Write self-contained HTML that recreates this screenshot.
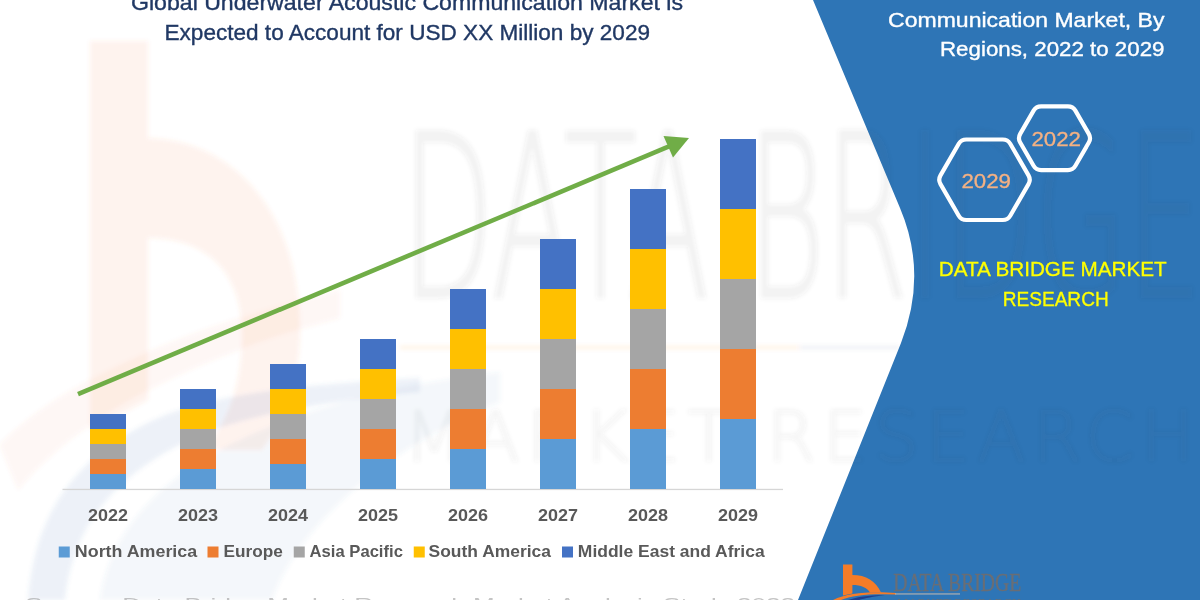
<!DOCTYPE html>
<html lang="en">
<head>
<meta charset="utf-8">
<title>Global Underwater Acoustic Communication Market</title>
<style>
html,body{margin:0;padding:0;background:#fff;}
body{width:1200px;height:600px;overflow:hidden;position:relative;font-family:"Liberation Sans",sans-serif;}
svg{display:block;position:absolute;left:0;top:0;}
text{font-family:"Liberation Sans",sans-serif;}
.wm{font-family:"DejaVu Sans","Liberation Sans",sans-serif;font-weight:200;}
.serif{font-family:"Liberation Serif",serif;}
</style>
</head>
<body>
<svg width="1200" height="600" viewBox="0 0 1200 600">
<defs>
<filter id="blur2" x="-10%" y="-10%" width="120%" height="120%"><feGaussianBlur stdDeviation="2.2"/></filter>
<filter id="blur1" x="-10%" y="-10%" width="120%" height="120%"><feGaussianBlur stdDeviation="0.5"/></filter>
<clipPath id="panelclip"><path d="M813,0 L900,208 Q928,274 901,343 L798,600 L1200,600 L1200,0 Z"/></clipPath>
</defs>
<rect width="1200" height="600" fill="#ffffff"/>

<!-- watermark -->
<g id="watermark" filter="url(#blur2)">
  <!-- big b -->
  <path d="M90,41 L148,41 L148,138 C235,140 300,215 300,330 C300,380 285,420 262,450 L205,450 C228,420 242,385 242,335 C242,270 205,238 148,238 L148,400 L90,430 Z" fill="#f4723a" opacity="0.085"/>
  <!-- swoosh -->
  <path d="M0,445 C40,400 150,335 340,290 L340,318 C180,360 70,425 18,490 Z" fill="#f4723a" opacity="0.055"/>
  <path d="M28,600 C34,520 70,455 165,415 C230,392 300,385 420,378 L420,392 C330,400 250,415 200,435 C110,475 72,530 65,600 Z" fill="#4a78b8" opacity="0.10"/>
  <path d="M100,600 C108,540 150,480 250,435 C330,400 400,385 500,372 L500,402 C400,440 300,520 272,600 Z" fill="#4a78b8" opacity="0.06"/>
  <text class="wm" x="402" y="297" font-size="226" textLength="800" lengthAdjust="spacingAndGlyphs" fill="#555" stroke="#555" stroke-width="3" opacity="0.065">DATA BRIDGE</text>
  <rect x="400" y="346" width="400" height="3" fill="#f58a3c" opacity="0.12"/>
  <rect x="800" y="346" width="100" height="3" fill="#7f93b5" opacity="0.15"/>
  <text class="wm" x="404" y="461" font-size="70" textLength="790" lengthAdjust="spacing" fill="#555" stroke="#555" stroke-width="1.5" opacity="0.055">MARKET RESEARCH</text>
</g>

<!-- title -->
<g fill="#203864" stroke="#203864" stroke-width="0.35" font-size="21.3">
<text x="131" y="9.5" textLength="552" lengthAdjust="spacingAndGlyphs">Global Underwater Acoustic Communication Market is</text>
<text x="164.5" y="39.5" textLength="485.5" lengthAdjust="spacingAndGlyphs">Expected to Account for USD XX Million by 2029</text>
</g>

<!-- axis -->
<rect x="62.5" y="488.8" width="720.5" height="1.3" fill="#d6d6d6"/>

<!-- bars -->
<g shape-rendering="crispEdges">
<rect x="90" y="473.50" width="36" height="15.00" fill="#5b9bd5"/>
<rect x="90" y="458.50" width="36" height="15.00" fill="#ed7d31"/>
<rect x="90" y="443.50" width="36" height="15.00" fill="#a5a5a5"/>
<rect x="90" y="428.50" width="36" height="15.00" fill="#ffc000"/>
<rect x="90" y="413.50" width="36" height="15.00" fill="#4472c4"/>
<rect x="180" y="468.50" width="36" height="20.00" fill="#5b9bd5"/>
<rect x="180" y="448.50" width="36" height="20.00" fill="#ed7d31"/>
<rect x="180" y="428.50" width="36" height="20.00" fill="#a5a5a5"/>
<rect x="180" y="408.50" width="36" height="20.00" fill="#ffc000"/>
<rect x="180" y="388.50" width="36" height="20.00" fill="#4472c4"/>
<rect x="270" y="463.50" width="36" height="25.00" fill="#5b9bd5"/>
<rect x="270" y="438.50" width="36" height="25.00" fill="#ed7d31"/>
<rect x="270" y="413.50" width="36" height="25.00" fill="#a5a5a5"/>
<rect x="270" y="388.50" width="36" height="25.00" fill="#ffc000"/>
<rect x="270" y="363.50" width="36" height="25.00" fill="#4472c4"/>
<rect x="360" y="458.50" width="36" height="30.00" fill="#5b9bd5"/>
<rect x="360" y="428.50" width="36" height="30.00" fill="#ed7d31"/>
<rect x="360" y="398.50" width="36" height="30.00" fill="#a5a5a5"/>
<rect x="360" y="368.50" width="36" height="30.00" fill="#ffc000"/>
<rect x="360" y="338.50" width="36" height="30.00" fill="#4472c4"/>
<rect x="450" y="448.50" width="36" height="40.00" fill="#5b9bd5"/>
<rect x="450" y="408.50" width="36" height="40.00" fill="#ed7d31"/>
<rect x="450" y="368.50" width="36" height="40.00" fill="#a5a5a5"/>
<rect x="450" y="328.50" width="36" height="40.00" fill="#ffc000"/>
<rect x="450" y="288.50" width="36" height="40.00" fill="#4472c4"/>
<rect x="540" y="438.50" width="36" height="50.00" fill="#5b9bd5"/>
<rect x="540" y="388.50" width="36" height="50.00" fill="#ed7d31"/>
<rect x="540" y="338.50" width="36" height="50.00" fill="#a5a5a5"/>
<rect x="540" y="288.50" width="36" height="50.00" fill="#ffc000"/>
<rect x="540" y="238.50" width="36" height="50.00" fill="#4472c4"/>
<rect x="630" y="428.50" width="36" height="60.00" fill="#5b9bd5"/>
<rect x="630" y="368.50" width="36" height="60.00" fill="#ed7d31"/>
<rect x="630" y="308.50" width="36" height="60.00" fill="#a5a5a5"/>
<rect x="630" y="248.50" width="36" height="60.00" fill="#ffc000"/>
<rect x="630" y="188.50" width="36" height="60.00" fill="#4472c4"/>
<rect x="720" y="418.50" width="36" height="70.00" fill="#5b9bd5"/>
<rect x="720" y="348.50" width="36" height="70.00" fill="#ed7d31"/>
<rect x="720" y="278.50" width="36" height="70.00" fill="#a5a5a5"/>
<rect x="720" y="208.50" width="36" height="70.00" fill="#ffc000"/>
<rect x="720" y="138.50" width="36" height="70.00" fill="#4472c4"/>
</g>

<!-- arrow -->
<g>
<line x1="78" y1="394.2" x2="672" y2="145.2" stroke="#70ad47" stroke-width="4.6" stroke-linecap="butt"/>
<polygon points="689,138 663.5,136 673,157.5" fill="#70ad47"/>
</g>

<!-- year labels -->
<g fill="#595959" font-size="16.4" font-weight="bold">
<text x="108" y="520.5" text-anchor="middle" textLength="40" lengthAdjust="spacingAndGlyphs">2022</text>
<text x="198" y="520.5" text-anchor="middle" textLength="40" lengthAdjust="spacingAndGlyphs">2023</text>
<text x="288" y="520.5" text-anchor="middle" textLength="40" lengthAdjust="spacingAndGlyphs">2024</text>
<text x="378" y="520.5" text-anchor="middle" textLength="40" lengthAdjust="spacingAndGlyphs">2025</text>
<text x="468" y="520.5" text-anchor="middle" textLength="40" lengthAdjust="spacingAndGlyphs">2026</text>
<text x="558" y="520.5" text-anchor="middle" textLength="40" lengthAdjust="spacingAndGlyphs">2027</text>
<text x="648" y="520.5" text-anchor="middle" textLength="40" lengthAdjust="spacingAndGlyphs">2028</text>
<text x="738" y="520.5" text-anchor="middle" textLength="40" lengthAdjust="spacingAndGlyphs">2029</text>
</g>

<!-- legend -->
<g fill="#595959" font-size="16.7" font-weight="bold">
<rect x="58.75" y="546.5" width="11" height="11" fill="#5b9bd5"/><text x="74.85" y="557" textLength="122.3" lengthAdjust="spacingAndGlyphs">North America</text>
<rect x="207.5" y="546.5" width="11" height="11" fill="#ed7d31"/><text x="223.6" y="557" textLength="59.3" lengthAdjust="spacingAndGlyphs">Europe</text>
<rect x="293.75" y="546.5" width="11" height="11" fill="#a5a5a5"/><text x="309.6" y="557" textLength="93.3" lengthAdjust="spacingAndGlyphs">Asia Pacific</text>
<rect x="413.75" y="546.5" width="11" height="11" fill="#ffc000"/><text x="428.6" y="557" textLength="122.3" lengthAdjust="spacingAndGlyphs">South America</text>
<rect x="562" y="546.5" width="11" height="11" fill="#4472c4"/><text x="577.85" y="557" textLength="186.8" lengthAdjust="spacingAndGlyphs">Middle East and Africa</text>
</g>

<!-- bottom faint text line (cropped) -->
<text x="25" y="609.8" font-size="17" fill="#8a8a8a" opacity="0.5" textLength="770" lengthAdjust="spacingAndGlyphs">Source: Data Bridge Market Research Market Analysis Study 2022</text>

<!-- blue panel -->
<path d="M813,0 L900,208 Q928,274 901,343 L798,600 L1200,600 L1200,0 Z" fill="#2e75b6"/>
<g clip-path="url(#panelclip)" filter="url(#blur2)">
  <text class="wm" x="402" y="297" font-size="226" textLength="800" lengthAdjust="spacingAndGlyphs" fill="#555" stroke="#555" stroke-width="3" opacity="0.05">DATA BRIDGE</text>
  <text class="wm" x="404" y="461" font-size="70" textLength="790" lengthAdjust="spacing" fill="#555" stroke="#555" stroke-width="1.5" opacity="0.05">MARKET RESEARCH</text>
</g>

<!-- panel title -->
<g fill="#ffffff" stroke="#ffffff" stroke-width="0.35" font-size="20.3">
<text x="888" y="-2" textLength="276.5" lengthAdjust="spacingAndGlyphs">Global Underwater Acoustic</text>
<text x="888" y="27" textLength="276.5" lengthAdjust="spacingAndGlyphs">Communication Market, By</text>
<text x="940" y="56.2" textLength="224.5" lengthAdjust="spacingAndGlyphs">Regions, 2022 to 2029</text>
</g>

<!-- hexagons -->
<g fill="none" stroke="#ffffff" stroke-width="4.2" stroke-linejoin="round">
<path d="M1028.50,175.42 Q1031.00,179.75 1028.50,184.08 L1010.25,215.69 Q1007.75,220.02 1002.75,220.02 L966.25,220.02 Q961.25,220.02 958.75,215.69 L940.50,184.08 Q938.00,179.75 940.50,175.42 L958.75,143.81 Q961.25,139.48 966.25,139.48 L1002.75,139.48 Q1007.75,139.48 1010.25,143.81 Z"/>
<path d="M1088.80,133.87 Q1091.30,138.20 1088.80,142.53 L1075.40,165.74 Q1072.90,170.07 1067.90,170.07 L1041.10,170.07 Q1036.10,170.07 1033.60,165.74 L1020.20,142.53 Q1017.70,138.20 1020.20,133.87 L1033.60,110.66 Q1036.10,106.33 1041.10,106.33 L1067.90,106.33 Q1072.90,106.33 1075.40,110.66 Z"/>
</g>
<g fill="#f4b183" stroke="#f4b183" stroke-width="0.3" font-size="20">
<text x="961.5" y="188" textLength="49.5" lengthAdjust="spacingAndGlyphs">2029</text>
<text x="1031.5" y="145.5" textLength="49.5" lengthAdjust="spacingAndGlyphs">2022</text>
</g>

<!-- yellow -->
<g fill="#ffff00" stroke="#ffff00" stroke-width="0.3" font-size="21">
<text x="938.7" y="275.75" textLength="228" lengthAdjust="spacingAndGlyphs">DATA BRIDGE MARKET</text>
<text x="1002.7" y="305.6" textLength="106" lengthAdjust="spacingAndGlyphs">RESEARCH</text>
</g>

<!-- logo bottom -->
<g>
  <path d="M843,564.4 L852.4,564.4 L852.4,575 C866,575 876,581 881,592.5 L870,592.5 C867,587.5 861,585 852.4,585 L852.4,593.5 L843,595.5 Z" fill="#f57c28"/>
  <path d="M833,600 C845,594 862,592 882,592.3 L896,593 L896,594.4 L882,594.2 C864,594.2 850,596 841,600 Z" fill="#f57c28"/>
  <path d="M848,600 C858,596.5 870,595 885,595.2 C873,596.5 865,598 859,600 Z" fill="#1e3f8f"/>
  <text class="serif" x="893.3" y="590.7" font-size="25.5" textLength="128" lengthAdjust="spacingAndGlyphs" fill="#6a6e75" stroke="#6a6e75" stroke-width="0.3">DATA BRIDGE</text>
  <rect x="895" y="593.4" width="65" height="1.1" fill="#b9b3ad"/>
    <text class="serif" x="897" y="606.6" font-size="12.5" textLength="124" lengthAdjust="spacing" fill="#6d6e71">MARKET RESEARCH</text>
</g>
</svg>
</body>
</html>
